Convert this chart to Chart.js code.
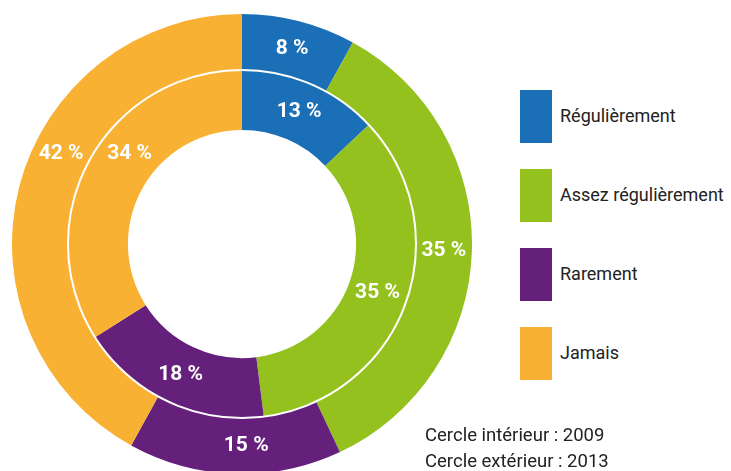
<!DOCTYPE html>
<html>
<head>
<meta charset="utf-8">
<script src="https://cdn.jsdelivr.net/npm/chart.js@4"></script>
<style>
  html, body { margin: 0; padding: 0; background: #fff; overflow: hidden; }
  body { width: 731px; height: 471px; position: relative;
         font-family: Roboto, sans-serif; color: #222; }
  #wrap { position: absolute; left: 12px; top: 14px; width: 460px; height: 460px; }
  #legend { position: absolute; left: 520px; top: 90px; }
  .item { position: relative; height: 79px; }
  .box { position: absolute; left: 0; top: 0; width: 32px; height: 53px; }
  .lbl { position: absolute; left: 40px; top: 15px; font-size: 18px; white-space: nowrap; }
  #note { position: absolute; left: 425px; top: 422px; font-size: 18.5px; line-height: 26px; }
</style>
</head>
<body>
<div id="wrap"><canvas id="myChart"></canvas></div>
<div id="legend"></div>
<div id="note">Cercle intérieur : 2009<br>Cercle extérieur : 2013</div>
<script>
// DONNEES
const categories = ["Régulièrement", "Assez régulièrement", "Rarement", "Jamais"];
const values2013 = [8, 35, 15, 42]; // cercle extérieur
const values2009 = [13, 35, 18, 34]; // cercle intérieur
const colors = ["#1b6fb6", "#95c11f", "#65207c", "#f8b133"];

// LEGENDE HTML
const legend = document.getElementById("legend");
categories.forEach((cat, i) => {
  const item = document.createElement("div");
  item.className = "item";
  item.innerHTML = '<div class="box" style="background:' + colors[i] + '"></div><div class="lbl">' + cat + "</div>";
  legend.appendChild(item);
});

// étiquettes en % + cercle blanc entre les deux anneaux
const ringLabels = {
  id: "ringLabels",
  afterDatasetsDraw(chart, args, opts) {
    const ctx = chart.ctx;
    const inner = chart.getDatasetMeta(1).data[0];
    ctx.save();
    ctx.strokeStyle = "#fff";
    ctx.lineWidth = 2;
    ctx.beginPath();
    ctx.arc(inner.x, inner.y, inner.outerRadius, 0, Math.PI * 2);
    ctx.stroke();

    ctx.fillStyle = "#fff";
    ctx.font = "bold 21px Roboto, sans-serif";
    ctx.textAlign = "center";
    ctx.textBaseline = "middle";
    chart.data.datasets.forEach((ds, d) => {
      const meta = chart.getDatasetMeta(d);
      meta.data.forEach((arc, i) => {
        const shift = ((opts.angleShift[d] || {})[i] || 0) * Math.PI / 180;
        const a = (arc.startAngle + arc.endAngle) / 2 + shift;
        const r = (arc.innerRadius + arc.outerRadius) / 2;
        ctx.fillText(ds.data[i] + " %", arc.x + Math.cos(a) * r, arc.y + Math.sin(a) * r);
      });
    });
    ctx.restore();
  },
};

const ctx = document.getElementById("myChart");

new Chart(ctx, {
  type: "doughnut",
  data: {
    labels: categories,
    datasets: [
      {
        label: "2013",
        data: values2013,
        backgroundColor: colors,
        borderWidth: 0,
        weight: 56,
      },
      {
        label: "2009",
        data: values2009,
        backgroundColor: colors,
        borderWidth: 0,
        weight: 60,
      },
    ],
  },
  options: {
    responsive: true,
    maintainAspectRatio: false,
    animation: false,
    events: [],
    cutout: "49.6%",
    layout: { padding: 0 },
    plugins: {
      legend: { display: false },
      tooltip: { enabled: false },
      ringLabels: {
        angleShift: { 0: { 2: -3, 3: 12 }, 1: { 3: 10 } },
      },
    },
  },
  plugins: [ringLabels],
});
</script>
</body>
</html>
